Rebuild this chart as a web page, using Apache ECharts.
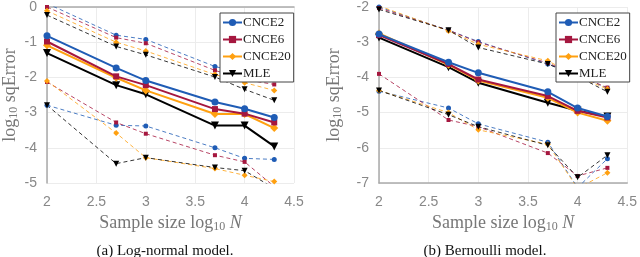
<!DOCTYPE html>
<html><head><meta charset="utf-8">
<script src="https://cdn.jsdelivr.net/npm/echarts@6/dist/echarts.min.js"></script>
<style>html,body{margin:0;padding:0;background:#fff}#c{width:640px;height:257px}</style>
</head><body><div id="c"></div>
<script>
const xVals = [2, 2.7, 3, 3.7, 4, 4.3];
const methods = ['CNCE2', 'CNCE6', 'CNCE20', 'MLE'];
const xTicks = [2, 2.5, 3, 3.5, 4, 4.5];

// Log-normal model
const ln_cnce2_mean = [-0.82,-1.73,-2.09,-2.70,-2.89,-3.14];
const ln_cnce6_mean = [-0.98,-1.97,-2.22,-2.90,-3.03,-3.28];
const ln_cnce20_mean = [-1.09,-2.01,-2.37,-3.04,-3.04,-3.44];
const ln_mle_mean = [-1.31,-2.22,-2.48,-3.37,-3.37,-3.96];
const ln_cnce2_hi = [0.10,-0.80,-0.92,-1.69,-1.89,-2.03];
const ln_cnce6_hi = [0.00,-0.87,-1.03,-1.80,-2.06,-2.20];
const ln_cnce20_hi = [-0.11,-1.00,-1.25,-1.92,-2.15,-2.37];
const ln_mle_hi = [-0.23,-1.12,-1.36,-1.99,-2.34,-2.65];
const ln_cnce2_lo = [-2.79,-3.36,-3.38,-4.00,-4.30,-4.33];
const ln_cnce6_lo = [-2.13,-3.28,-3.60,-4.21,-4.40,-5.10];
const ln_cnce20_lo = [-2.10,-3.58,-4.28,-4.59,-4.78,-4.96];
const ln_mle_lo = [-2.79,-4.45,-4.28,-4.56,-4.65,-5.15];

// Bernoulli model
const b_cnce2_mean = [-2.77,-3.57,-3.87,-4.41,-4.87,-5.11];
const b_cnce6_mean = [-2.80,-3.62,-4.06,-4.53,-4.95,-5.14];
const b_cnce20_mean = [-2.75,-3.64,-4.09,-4.58,-5.00,-5.23];
const b_mle_mean = [-2.87,-3.71,-4.15,-4.72,-4.95,-5.11];
const b_cnce2_hi = [-2.00,-2.66,-2.98,-3.62,-3.94,-4.31];
const b_cnce6_hi = [-2.03,-2.66,-3.00,-3.59,-3.94,-4.29];
const b_cnce20_hi = [-1.97,-2.68,-3.06,-3.53,-3.97,-4.33];
const b_mle_hi = [-2.07,-2.66,-3.15,-3.62,-3.97,-4.41];
const b_cnce2_lo = [-4.39,-4.87,-5.32,-5.84,-7.13,-6.31];
const b_cnce6_lo = [-3.90,-5.21,-5.40,-6.15,-6.80,-6.57];
const b_cnce20_lo = [-4.37,-5.00,-5.49,-5.90,-7.15,-6.71];
const b_mle_lo = [-4.37,-5.06,-5.40,-5.93,-6.84,-6.21];

const colors = ['#1f5cb5', '#a5173f', '#ffa010', '#000000'];
const symbols = ['circle', 'rect', 'diamond', 'triangle'];
const rot = [0, 0, 0, 180];
const sizes = [7, 6, 8, 8];

const panels = [
  {mean:[ln_cnce2_mean,ln_cnce6_mean,ln_cnce20_mean,ln_mle_mean],
   hi:[ln_cnce2_hi,ln_cnce6_hi,ln_cnce20_hi,ln_mle_hi],
   lo:[ln_cnce2_lo,ln_cnce6_lo,ln_cnce20_lo,ln_mle_lo], ymin:-5, ymax:0},
  {mean:[b_cnce2_mean,b_cnce6_mean,b_cnce20_mean,b_mle_mean],
   hi:[b_cnce2_hi,b_cnce6_hi,b_cnce20_hi,b_mle_hi],
   lo:[b_cnce2_lo,b_cnce6_lo,b_cnce20_lo,b_mle_lo], ymin:-7, ymax:-2}
];

const pair = arr => arr.map((v,i)=>[xVals[i], v]);
const serif = "'Liberation Serif', 'DejaVu Serif', serif";
const sans = "'Liberation Sans', Arial, sans-serif";

const series = [];
panels.forEach((p, pi) => {
  ['lo','hi'].forEach(k => {
    p[k].forEach((arr, mi) => {
      series.push({
        name: methods[mi] + ' ' + k + pi, type:'line', xAxisIndex:pi, yAxisIndex:pi,
        data: pair(arr), symbol: symbols[mi], symbolRotate: rot[mi], symbolSize: sizes[mi]-2,
        lineStyle:{color:colors[mi], width:1, type:[4,3], opacity:0.8},
        itemStyle:{color:colors[mi]}, z: 2, clip:true, animation:false, silent:true
      });
    });
  });
  p.mean.forEach((arr, mi) => {
    series.push({
      name: methods[mi], type:'line', xAxisIndex:pi, yAxisIndex:pi,
      data: pair(arr), symbol: symbols[mi], symbolRotate: rot[mi], symbolSize: sizes[mi],
      lineStyle:{color:colors[mi], width:2}, itemStyle:{color:colors[mi]},
      z: 3 + (3-mi), clip:true, animation:false
    });
  });
});

const grids = [
  {left:42, top:5, width:252, height:178},
  {left:379, top:5, width:251, height:178}
];

const xAxes = grids.map((g,i)=>({
  type:'value', gridIndex:i, min:2, max:4.5, interval:0.5,
  axisLine:{show:true, lineStyle:{color:'#aaa', width:1.5}},
  axisTick:{show:false},
  axisLabel:{color:'#888', fontFamily:sans, fontSize:14, margin:12},
  splitLine:{lineStyle:{color:'#ececec'}},
  name:'{t|Sample size log}{s|10}{t| }{i|N}', nameLocation:'middle', nameGap:26,
  nameTextStyle:{rich:{
    t:{fontFamily:serif, fontSize:18, color:'#777'},
    s:{fontFamily:serif, fontSize:12, color:'#777', verticalAlign:'bottom', padding:[8,0,0,0]},
    i:{fontFamily:serif, fontSize:18, color:'#777', fontStyle:'italic'}}}
}));
const yAxes = grids.map((g,i)=>({
  type:'value', gridIndex:i, min:panels[i].ymin, max:panels[i].ymax, interval:1,
  axisLine:{show:true, lineStyle:{color:'#aaa', width:1.5}},
  axisTick:{show:false},
  axisLabel:{color:'#888', fontFamily:sans, fontSize:14, margin:10},
  splitLine:{lineStyle:{color:'#ececec'}},
  name:'{t|log}{s|10}{t| sqError}', nameLocation:'middle', nameGap:i===0?27:35, nameRotate:90,
  nameTextStyle:{rich:{
    t:{fontFamily:serif, fontSize:18, color:'#777'},
    s:{fontFamily:serif, fontSize:12, color:'#777', padding:[8,0,0,0]}}}
}));

const legendCommon = {
  orient:'vertical', data:methods, backgroundColor:'#fff', borderColor:'#444', borderWidth:1,
  padding:[3,3,2,2], itemGap:4, itemWidth:19, itemHeight:9,
  textStyle:{fontFamily:serif, fontSize:13, color:'#222', padding:[0,0,0,-4]}
};

const option = {
  animation:false,
  grid: grids,
  xAxis: xAxes,
  yAxis: yAxes,
  legend: [
    Object.assign({left:220, top:13}, legendCommon),
    Object.assign({left:556, top:13}, legendCommon)
  ],
  title: [
    {text:'(a) Log-normal model.', left:160, top:239, textAlign:'center',
     textStyle:{fontFamily:serif, fontSize:15, fontWeight:'normal', color:'#111'}},
    {text:'(b) Bernoulli model.', left:480, top:239, textAlign:'center',
     textStyle:{fontFamily:serif, fontSize:15, fontWeight:'normal', color:'#111'}}
  ],
  series: series
};
const chart = echarts.init(document.getElementById('c'), null, {renderer:'canvas'});
chart.setOption(option);
</script></body></html>
